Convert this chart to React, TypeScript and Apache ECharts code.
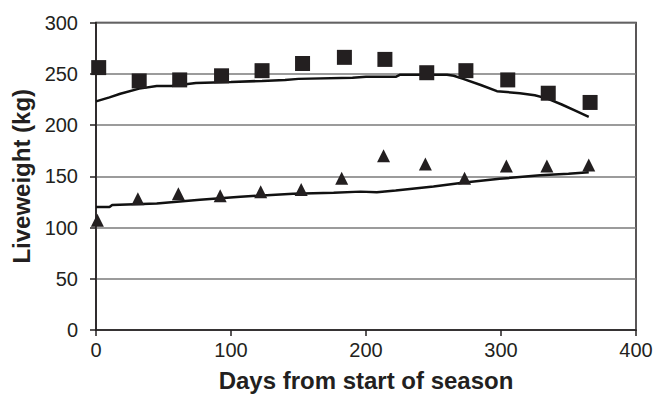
import React, { useEffect, useRef } from "react";
import * as echarts from "echarts";

const squareDays = [2, 32, 62, 93, 123, 153, 184, 214, 245, 274, 305, 335, 366];
const squareValues = [256, 243, 244, 248, 253, 260, 266, 264, 251, 253, 244, 231, 222];

const triangleDays = [1, 31, 61, 92, 122, 152, 182, 213, 244, 273, 304, 334, 365];
const triangleValues = [107, 128, 133, 131, 135, 137, 148, 170, 162, 148, 160, 160, 161];

const squareModelDays = [0, 10, 18, 32, 45, 56, 62, 74, 100, 123, 140, 150, 190, 200, 222, 225, 260, 265, 272, 285, 297, 314, 325, 334, 345, 355, 365];
const squareModelValues = [223, 227, 230.5, 235.5, 238, 238, 239, 241, 242, 243, 244, 245, 246, 247, 247, 249, 249, 248, 245, 239, 233, 231, 229, 226, 220, 214, 208];

const triangleModelDays = [0, 10, 12, 45, 77, 107, 146, 176, 196, 208, 222, 250, 273, 299, 329, 350, 365];
const triangleModelValues = [120, 120, 122, 123.5, 127, 130, 133, 134, 135, 134.5, 136, 140, 144, 147.5, 151, 152.5, 154];

const xTicks = { min: 0, max: 400, interval: 100 };
const yTicks = { min: 0, max: 300, interval: 50 };

const zip = (a: number[], b: number[]) => a.map((v, i) => [v, b[i]]);

export default function App() {
  const ref = useRef<HTMLDivElement>(null);
  useEffect(() => {
    document.body.style.margin = "0";
    if (!ref.current) return;
    const chart = echarts.init(ref.current, null, { renderer: "svg" });
    const ink = "#231f20";
    const font = "Liberation Sans, Arial, sans-serif";
    chart.setOption({
      animation: false,
      backgroundColor: "#ffffff",
      grid: {
        left: 96,
        right: 20,
        top: 22.5,
        bottom: 64,
        show: true,
        borderColor: ink,
        borderWidth: 1.5,
        backgroundColor: "transparent",
      },
      xAxis: {
        type: "value",
        min: xTicks.min,
        max: xTicks.max,
        interval: xTicks.interval,
        name: "Days from start of season",
        nameLocation: "middle",
        nameGap: 38,
        nameTextStyle: { fontFamily: font, fontSize: 24, fontWeight: "bold", color: ink },
        axisLine: { show: true, lineStyle: { color: ink, width: 1.5 } },
        axisTick: { show: true, length: 6, lineStyle: { color: ink, width: 1.5 } },
        axisLabel: { fontFamily: font, fontSize: 20, color: ink, margin: 10 },
        splitLine: { show: false },
      },
      yAxis: {
        type: "value",
        min: yTicks.min,
        max: yTicks.max,
        interval: yTicks.interval,
        name: "Liveweight (kg)",
        nameLocation: "middle",
        nameGap: 63,
        nameTextStyle: { fontFamily: font, fontSize: 24, fontWeight: "bold", color: ink },
        axisLine: { show: true, lineStyle: { color: ink, width: 1.5 } },
        axisTick: { show: true, length: 6, lineStyle: { color: ink, width: 1.5 } },
        axisLabel: { fontFamily: font, fontSize: 20, color: ink, margin: 18 },
        splitLine: { show: true, lineStyle: { color: "#7a7a7a", width: 1.5 } },
      },
      series: [
        {
          type: "line",
          data: zip(squareModelDays, squareModelValues),
          showSymbol: false,
          symbol: "none",
          lineStyle: { color: "#111", width: 2.5 },
          z: 3,
        },
        {
          type: "line",
          data: zip(triangleModelDays, triangleModelValues),
          showSymbol: false,
          symbol: "none",
          lineStyle: { color: "#111", width: 2.5 },
          z: 3,
        },
        {
          type: "scatter",
          data: zip(squareDays, squareValues),
          symbol: "rect",
          symbolSize: 15,
          itemStyle: { color: ink, opacity: 1 },
          z: 4,
        },
        {
          type: "scatter",
          data: zip(triangleDays, triangleValues),
          symbol: "triangle",
          symbolSize: [13, 13],
          itemStyle: { color: ink, opacity: 1 },
          z: 4,
        },
      ],
    });
    return () => chart.dispose();
  }, []);
  return <div ref={ref} style={{ width: 656, height: 397 }} />;
}
